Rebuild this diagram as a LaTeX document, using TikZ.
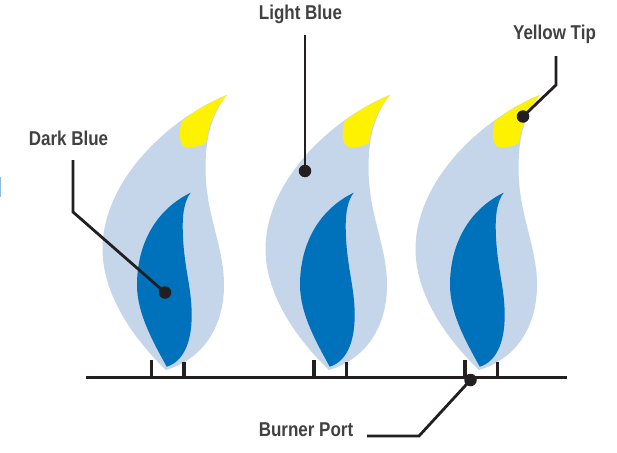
\documentclass[tikz,border=0pt]{standalone}
\usepackage{fontspec}
\setmainfont{Liberation Sans}[FakeStretch=0.85]
\definecolor{lightflame}{HTML}{C5D6EB}
\definecolor{darkflame}{HTML}{0072BC}
\definecolor{tipyellow}{HTML}{FFF200}
\definecolor{labelgrey}{HTML}{414042}
\definecolor{leader}{HTML}{231F20}
\definecolor{edgeblue}{HTML}{8CBCDD}
\tikzset{
  outerflame/.style={fill=lightflame,draw=none},
  innerflame/.style={fill=darkflame,draw=none},
  tipflame/.style={fill=tipyellow,draw=none},
  leaderline/.style={draw=leader,line width=2.8pt,line join=miter},
  baseline/.style={draw=leader,line width=2.3pt},
  stub/.style={draw=leader,line width=3.4pt},
  dot/.style={circle,fill=leader,draw=none,inner sep=0pt,minimum size=12.5pt},
  lbl/.style={text=labelgrey,font=\fontsize{20}{22}\selectfont\bfseries,inner sep=0pt,anchor=base}
}
\newcommand{\myflame}[1]{%
\begin{scope}[xshift=#1pt]
  \path[outerflame] (226.7,95)
    .. controls (170,118) and (102,180) .. (102.5,250)
    .. controls (103,300) and (140,345) .. (166,370)
    .. controls (200,360) and (224,330) .. (224,285)
    .. controls (224,245) and (205,215) .. (205.5,165)
    .. controls (206,135) and (212,115) .. (226.7,95) -- cycle;
  \path[tipflame] (226.7,95) .. controls (211,102) and (195,110) .. (181.5,121.7)
    .. controls (180,128) and (179,134) .. (180,138)
    .. controls (181,144) and (184,148) .. (188,147.7)
    .. controls (195,147) and (201,146) .. (206,143)
    .. controls (208,128) and (213,112) .. (226.7,95) -- cycle;
  \path[innerflame] (190.7,192.7)
    .. controls (155,210) and (137,245) .. (137,285)
    .. controls (137,315) and (155,345) .. (166.7,366.7)
    .. controls (182,362) and (191.7,345) .. (191.7,315)
    .. controls (191.7,285) and (182.7,265) .. (182.7,225)
    .. controls (182.7,212) and (185,200) .. (190.7,192.7) -- cycle;
\end{scope}}
\begin{document}
\begin{tikzpicture}[x=1pt,y=-1pt]
\useasboundingbox (0,0) rectangle (617,452);
\fill[edgeblue] (0,177) rectangle (1.2,197);
\myflame{0}
\myflame{163}
\myflame{313}
% burner
\coordinate (bl) at (86,377.5);
\coordinate (br) at (567,377.5);
\draw[baseline] (bl) -- (br);
\foreach \n/\x/\y in {a/151.5/360,b/184/362,c/314/360,d/346.5/362,e/465/360,f/497.5/362}{
  \coordinate (s\n t) at (\x,\y);
  \coordinate (s\n b) at (\x,377.5);
  \draw[stub] (s\n t) -- (s\n b);
}
% labels
\node[lbl] (darkl) at (68.5,145) {Dark Blue};
\node[lbl] (lightl) at (300.5,20) {Light Blue};
\node[lbl] (yell) at (554.5,40) {Yellow Tip};
\node[lbl] (burn) at (306,436.5) {Burner Port};
% dots
\node[dot] (darkd) at (165,292.5) {};
\node[dot] (lightd) at (305,171) {};
\node[dot] (yeld) at (523,116.5) {};
\node[dot] (burnd) at (470.5,380) {};
% leader starts and bends
\coordinate (d0) at (73,160);
\coordinate (d1) at (73,212);
\coordinate (l0) at (305,35);
\coordinate (y0) at (556,56);
\coordinate (y1) at (556,85);
\coordinate (b0) at (367,436);
\coordinate (b1) at (419,436);
\draw[leaderline] (d0) -- (d1) -- (darkd.center);
\draw[leaderline] (l0) -- (lightd.center);
\draw[leaderline] (y0) -- (y1) -- (yeld.center);
\draw[leaderline] (b0) -- (b1) -- (burnd.center);
\end{tikzpicture}
\end{document}
